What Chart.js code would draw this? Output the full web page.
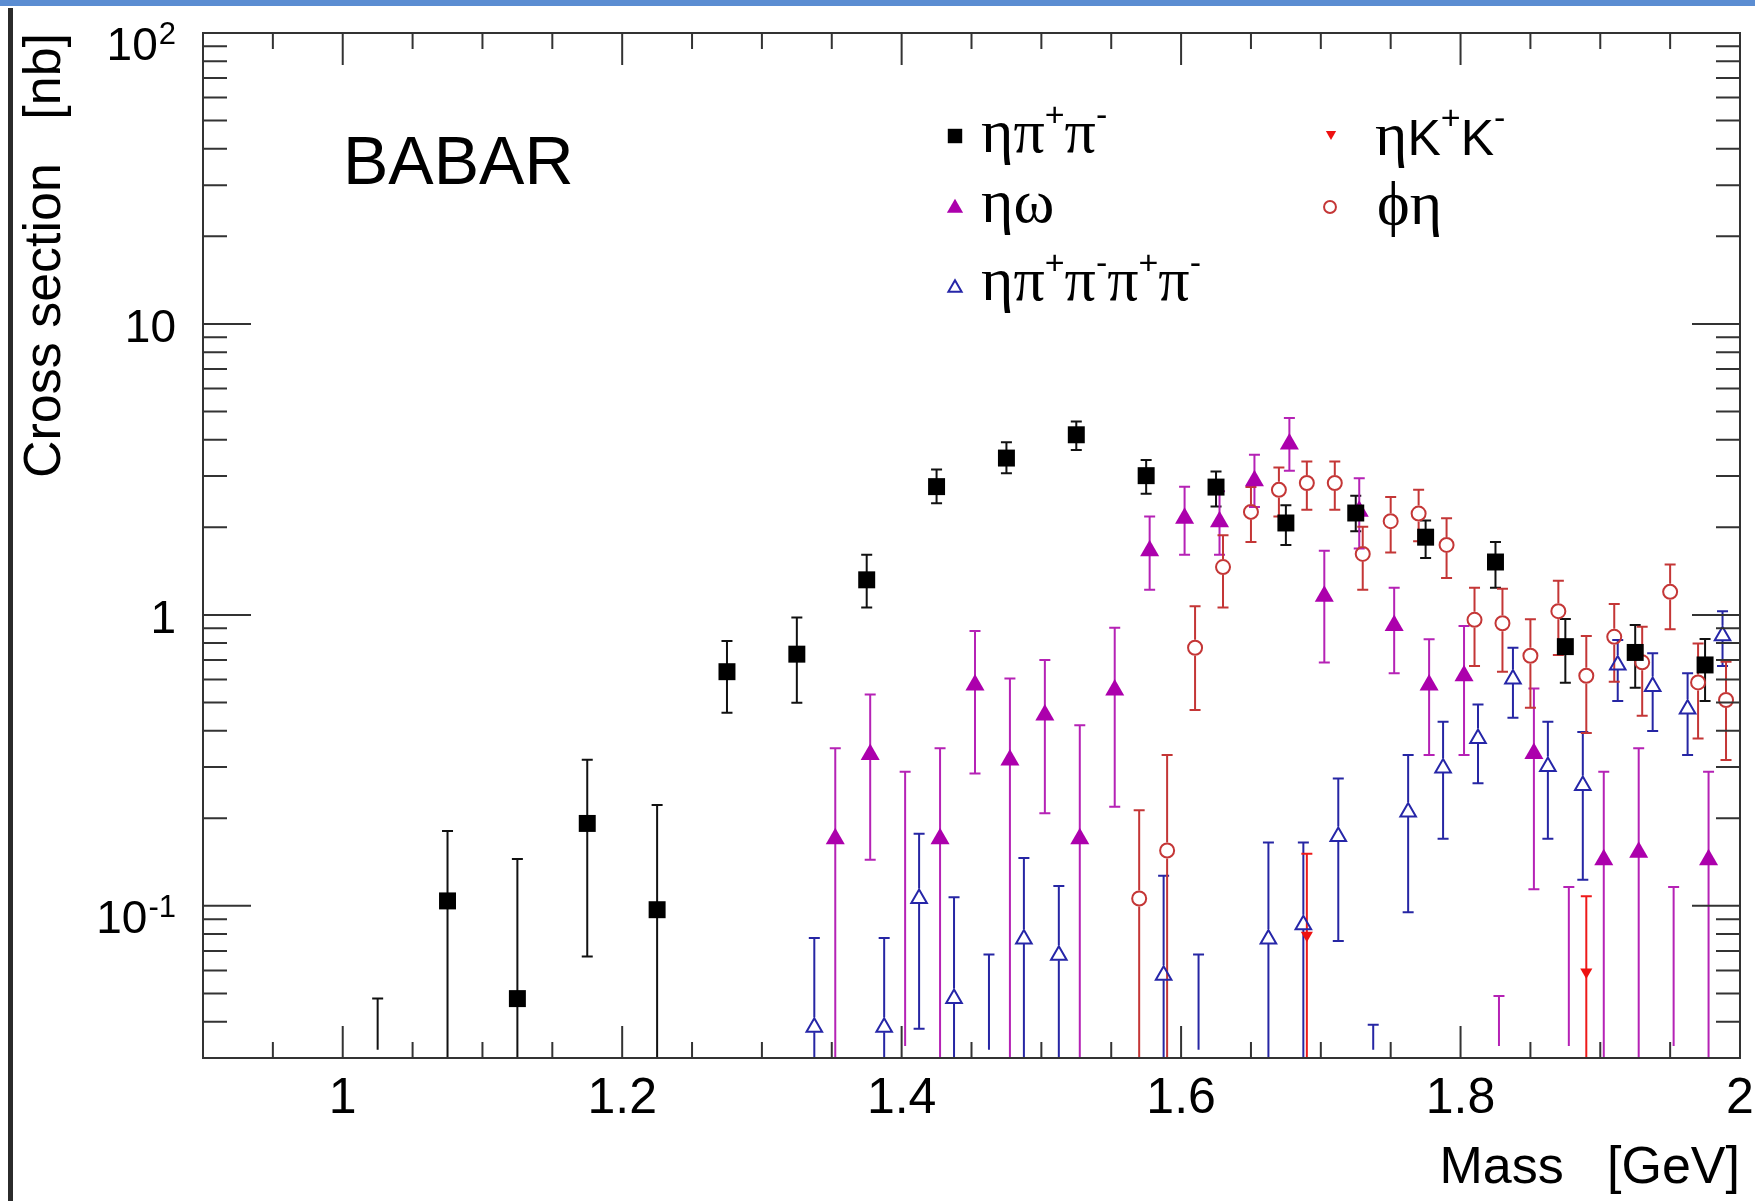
<!DOCTYPE html>
<html lang="en">
<head>
<meta charset="UTF-8">
<title>BABAR cross sections</title>
<script src="https://cdn.jsdelivr.net/npm/chart.js"></script>
<style>
  body { margin: 0; background: #fff; }
  #wrap { position: relative; width: 1755px; height: 1201px; overflow: hidden; }
  #topband { position: absolute; left: 0; top: 0; width: 1755px; height: 6px; background: #5b8dd2; }
  #leftbar { position: absolute; left: 8px; top: 8px; width: 5px; height: 1193px; background: #2b2b2b; }
  canvas { position: absolute; left: 0; top: 0; }
</style>
</head>
<body>
<div id="wrap">
  <canvas id="xsChart" width="1755" height="1201"></canvas>
  <div id="topband"></div>
  <div id="leftbar"></div>
</div>
<script>
// axis ticks
var xMajorTicks = [1, 1.2, 1.4, 1.6, 1.8, 2];
var yMajorTicks = [0.1, 1, 10, 100];
var yTickBase = ['10', '1', '10', '10'];
var yTickExp = ['-1', '', '', '2'];

// eta pi+ pi-  (null = no marker, bar only)
var etaPiPiX = [1.025, 1.075, 1.125, 1.175, 1.225, 1.275, 1.325, 1.375, 1.425, 1.475, 1.525, 1.575, 1.625, 1.675, 1.725, 1.775, 1.825, 1.875, 1.925, 1.975];
var etaPiPiY = [null, 0.104, 0.048, 0.192, 0.097, 0.638, 0.733, 1.32, 2.76, 3.46, 4.16, 3.01, 2.75, 2.07, 2.24, 1.85, 1.52, 0.778, 0.743, 0.673];
var etaPiPiHi = [0.048, 0.181, 0.145, 0.318, 0.222, 0.813, 0.98, 1.61, 3.16, 3.92, 4.62, 3.41, 3.11, 2.38, 2.57, 2.11, 1.78, 0.968, 0.923, 0.826];
var etaPiPiLo = [0.032, 0.01, 0.01, 0.067, 0.01, 0.461, 0.499, 1.06, 2.42, 3.07, 3.69, 2.61, 2.36, 1.74, 1.94, 1.57, 1.24, 0.585, 0.562, 0.506];

// eta omega
var etaOmegaX = [1.3525, 1.3775, 1.4025, 1.4275, 1.4525, 1.4775, 1.5025, 1.5275, 1.5525, 1.5775, 1.6025, 1.6275, 1.6525, 1.6775, 1.7025, 1.7275, 1.7525, 1.7775, 1.8025, 1.8275, 1.8525, 1.8775, 1.9025, 1.9275, 1.9525, 1.9775];
var etaOmegaY = [0.170, 0.331, null, 0.170, 0.574, 0.317, 0.453, 0.170, 0.552, 1.66, 2.15, 2.09, 2.89, 3.87, 1.16, 2.27, 0.92, 0.574, 0.618, null, 0.334, null, 0.144, 0.153, null, 0.144];
var etaOmegaHi = [0.348, 0.533, 0.289, 0.348, 0.881, 0.605, 0.700, 0.418, 0.904, 2.18, 2.76, 2.66, 3.55, 4.75, 1.66, 2.95, 1.24, 0.824, 0.916, 0.049, 0.559, 0.116, 0.289, 0.348, 0.116, 0.289];
var etaOmegaLo = [0.01, 0.144, 0.033, 0.01, 0.285, 0.01, 0.208, 0.01, 0.219, 1.22, 1.61, 1.61, 2.35, 3.13, 0.686, 1.69, 0.63, 0.330, 0.330, 0.033, 0.114, 0.033, 0.01, 0.01, 0.033, 0.01];

// eta pi+ pi- pi+ pi-
var eta4PiX = [1.3375, 1.3875, 1.4125, 1.4375, 1.4625, 1.4875, 1.5125, 1.5875, 1.6125, 1.6625, 1.6875, 1.7125, 1.7375, 1.7625, 1.7875, 1.8125, 1.8375, 1.8625, 1.8875, 1.9125, 1.9375, 1.9625, 1.9875];
var eta4PiY = [0.0383, 0.0383, 0.106, 0.048, null, 0.077, 0.0676, 0.0577, null, 0.077, 0.0861, 0.173, null, 0.210, 0.298, 0.376, 0.602, 0.301, 0.259, 0.673, 0.567, 0.475, 0.848];
var eta4PiHi = [0.0776, 0.0776, 0.177, 0.107, 0.068, 0.146, 0.117, 0.127, 0.068, 0.165, 0.165, 0.274, 0.039, 0.330, 0.429, 0.492, 0.771, 0.429, 0.396, 0.82, 0.738, 0.63, 1.03];
var eta4PiLo = [0.01, 0.01, 0.0378, 0.01, 0.032, 0.01, 0.01, 0.01, 0.032, 0.01, 0.01, 0.0757, 0.032, 0.095, 0.170, 0.264, 0.443, 0.170, 0.123, 0.506, 0.399, 0.330, 0.668];

// phi eta
var phiEtaX = [1.57, 1.59, 1.61, 1.63, 1.65, 1.67, 1.69, 1.71, 1.73, 1.75, 1.77, 1.79, 1.81, 1.83, 1.85, 1.87, 1.89, 1.91, 1.93, 1.95, 1.97, 1.99];
var phiEtaY = [0.106, 0.155, 0.771, 1.46, 2.26, 2.69, 2.84, 2.84, 1.62, 2.10, 2.23, 1.74, 0.962, 0.936, 0.724, 1.03, 0.618, 0.841, 0.687, 1.20, 0.586, 0.510];
var phiEtaHi = [0.213, 0.330, 1.07, 1.88, 2.75, 3.21, 3.37, 3.37, 2.01, 2.54, 2.69, 2.15, 1.24, 1.23, 0.966, 1.31, 0.846, 1.09, 0.91, 1.49, 0.798, 0.69];
var phiEtaLo = [0.01, 0.01, 0.471, 1.06, 1.78, 2.18, 2.30, 2.30, 1.22, 1.64, 1.79, 1.34, 0.667, 0.638, 0.480, 0.728, 0.393, 0.589, 0.450, 0.892, 0.376, 0.317];

// eta K+ K-
var etaKKX = [1.69, 1.89];
var etaKKY = [0.0792, 0.0593];
var etaKKHi = [0.151, 0.108];
var etaKKLo = [0.01, 0.01];

var SANS = "'Liberation Sans', Arial, sans-serif";
var SERIF = "'Liberation Serif', 'DejaVu Serif', 'Times New Roman', serif";
Chart.defaults.font.family = SANS;

var series = [
    { x: etaPiPiX, y: etaPiPiY, hi: etaPiPiHi, lo: etaPiPiLo, bar: '#111111',
      style: 'rect', radius: 12, fill: '#000000', line: '#000000', width: 0, rot: 0, gapT: 0, gapB: 0 },
    { x: etaOmegaX, y: etaOmegaY, hi: etaOmegaHi, lo: etaOmegaLo, bar: '#b522b5',
      style: 'triangle', radius: 11, fill: '#ac00ac', line: '#ac00ac', width: 0, rot: 0, gapT: 0, gapB: 0 },
    { x: eta4PiX, y: eta4PiY, hi: eta4PiHi, lo: eta4PiLo, bar: '#2626a4',
      style: 'triangle', radius: 9, fill: 'rgba(0,0,0,0)', line: '#2626a8', width: 2, rot: 0, gapT: 10, gapB: 5 },
    { x: phiEtaX, y: phiEtaY, hi: phiEtaHi, lo: phiEtaLo, bar: '#c43636',
      style: 'circle', radius: 7, fill: 'rgba(0,0,0,0)', line: '#c43636', width: 2, rot: 0, gapT: 8, gapB: 8 },
    { x: etaKKX, y: etaKKY, hi: etaKKHi, lo: etaKKLo, bar: '#ee1a1a',
      style: 'triangle', radius: 7, fill: '#ee1111', line: '#ee1111', width: 0, rot: 180, gapT: 0, gapB: 0 }
];

var datasets = series.map(function (s) {
    var pts = [];
    s.x.forEach(function (xv, i) {
        if (s.y[i] !== null) pts.push({ x: xv, y: s.y[i] });
    });
    return {
        data: pts,
        showLine: false,
        pointStyle: s.style,
        pointRadius: s.radius,
        pointRotation: s.rot,
        pointBackgroundColor: s.fill,
        pointBorderColor: s.line,
        pointBorderWidth: s.width
    };
});

// vertical error bars with caps, drawn under the markers
var errorBarPlugin = {
    id: 'errorBars',
    beforeDatasetsDraw: function (chart) {
        var ctx = chart.ctx, a = chart.chartArea;
        var xs = chart.scales.x, ys = chart.scales.y;
        var cap = 5.5;
        ctx.save();
        ctx.beginPath();
        ctx.rect(a.left, a.top, a.right - a.left, a.bottom - a.top);
        ctx.clip();
        ctx.lineWidth = 2;
        series.forEach(function (s) {
            ctx.strokeStyle = s.bar;
            s.x.forEach(function (xv, i) {
                var px = xs.getPixelForValue(xv);
                var pHi = ys.getPixelForValue(s.hi[i]);
                var pLo = ys.getPixelForValue(s.lo[i]);
                ctx.beginPath();
                if (s.y[i] !== null && s.gapT) {
                    var pv = ys.getPixelForValue(s.y[i]);
                    if (pHi < pv - s.gapT) { ctx.moveTo(px, pHi); ctx.lineTo(px, pv - s.gapT); }
                    if (pLo > pv + s.gapB) { ctx.moveTo(px, pv + s.gapB); ctx.lineTo(px, pLo); }
                } else {
                    ctx.moveTo(px, pHi);
                    ctx.lineTo(px, pLo);
                }
                ctx.moveTo(px - cap, pHi);
                ctx.lineTo(px + cap, pHi);
                if (s.y[i] !== null) {
                    ctx.moveTo(px - cap, pLo);
                    ctx.lineTo(px + cap, pLo);
                }
                ctx.stroke();
            });
        });
        ctx.restore();
    }
};

// ROOT style frame, inward ticks on all four sides, y labels with exponents
var axesPlugin = {
    id: 'rootAxes',
    afterDatasetsDraw: function (chart) {
        var ctx = chart.ctx, a = chart.chartArea;
        var xs = chart.scales.x, ys = chart.scales.y;
        ctx.save();
        ctx.strokeStyle = '#333333';
        ctx.lineWidth = 2;
        ctx.strokeRect(a.left, a.top, a.right - a.left, a.bottom - a.top);
        ctx.beginPath();
        for (var k = 19; k < 40; k++) {
            var px = xs.getPixelForValue(k * 0.05);
            var len = (k % 4 === 0) ? 32 : 16;
            ctx.moveTo(px, a.bottom); ctx.lineTo(px, a.bottom - len);
            ctx.moveTo(px, a.top); ctx.lineTo(px, a.top + len);
        }
        for (var e = -2; e <= 1; e++) {
            for (var m = 1; m <= 9; m++) {
                var v = m * Math.pow(10, e);
                if (v < ys.min || v > ys.max) continue;
                var py = ys.getPixelForValue(v);
                var l = (m === 1) ? 48 : 24;
                ctx.moveTo(a.left, py); ctx.lineTo(a.left + l, py);
                ctx.moveTo(a.right, py); ctx.lineTo(a.right - l, py);
            }
        }
        ctx.stroke();

        ctx.fillStyle = '#000';
        ctx.textBaseline = 'alphabetic';
        ctx.textAlign = 'right';
        var right = a.left - 27;
        yMajorTicks.forEach(function (v, i) {
            var py = ys.getPixelForValue(v);
            if (yTickExp[i]) {
                ctx.font = '31px ' + SANS;
                var w = ctx.measureText(yTickExp[i]).width;
                ctx.fillText(yTickExp[i], right, py + 11);
                ctx.font = '46px ' + SANS;
                ctx.fillText(yTickBase[i], right - w - 1, py + 27);
            } else {
                ctx.font = '46px ' + SANS;
                ctx.fillText(yTickBase[i], right, py + 18);
            }
        });
        ctx.restore();
    }
};

// text runs with serif greek letters and raised charges
function drawRun(ctx, parts, x, y) {
    parts.forEach(function (p) {
        var size = p.sup ? 34 : (p.serif ? 62 : 50);
        ctx.font = size + 'px ' + (p.serif ? SERIF : SANS);
        ctx.fillText(p.t, x, p.sup ? y - 26 : y);
        x += ctx.measureText(p.t).width;
    });
}

var legendRows = [
    { s: 0, mx: 955, my: 136, tx: 981, ty: 152, parts: [{ t: 'ηπ', serif: true }, { t: '+', sup: true }, { t: 'π', serif: true }, { t: '-', sup: true }] },
    { s: 1, mx: 955, my: 208, tx: 981, ty: 222, parts: [{ t: 'ηω', serif: true }] },
    { s: 2, mx: 955, my: 288, tx: 981, ty: 300, parts: [{ t: 'ηπ', serif: true }, { t: '+', sup: true }, { t: 'π', serif: true }, { t: '-', sup: true }, { t: 'π', serif: true }, { t: '+', sup: true }, { t: 'π', serif: true }, { t: '-', sup: true }] },
    { s: 4, mx: 1331, my: 134, tx: 1375, ty: 155, parts: [{ t: 'η', serif: true }, { t: 'K' }, { t: '+', sup: true }, { t: 'K' }, { t: '-', sup: true }] },
    { s: 3, mx: 1330, my: 207, tx: 1377, ty: 224, parts: [{ t: 'ϕη', serif: true }] }
];

var labelsPlugin = {
    id: 'babarLabels',
    afterDraw: function (chart) {
        var ctx = chart.ctx;
        ctx.save();
        ctx.fillStyle = '#000';
        ctx.textAlign = 'left';
        ctx.textBaseline = 'alphabetic';
        ctx.font = '68px ' + SANS;
        ctx.fillText('BABAR', 343, 184);
        legendRows.forEach(function (r) {
            var s = series[r.s];
            ctx.fillStyle = s.fill;
            ctx.strokeStyle = s.line;
            ctx.lineWidth = s.width;
            Chart.helpers.drawPoint(ctx, { pointStyle: s.style, rotation: s.rot, radius: s.radius * 0.85, borderWidth: s.width }, r.mx, r.my);
            ctx.fillStyle = '#000';
            drawRun(ctx, r.parts, r.tx, r.ty);
        });
        ctx.restore();
    }
};

var ctx = document.getElementById('xsChart').getContext('2d');
var xsChart = new Chart(ctx, {
    type: 'scatter',
    data: { datasets: datasets },
    options: {
        responsive: false,
        animation: false,
        layout: { padding: { top: 33, right: 15, left: 0, bottom: 0 } },
        plugins: { legend: { display: false }, tooltip: { enabled: false } },
        scales: {
            x: {
                type: 'linear',
                min: 0.9,
                max: 2.0,
                grid: { display: false, drawTicks: false },
                border: { display: false },
                afterBuildTicks: function (scale) {
                    scale.ticks = xMajorTicks.map(function (v) { return { value: v }; });
                },
                afterFit: function (scale) {
                    scale.height = 143;
                    scale.paddingLeft = 0;
                    scale.paddingRight = 0;
                },
                ticks: {
                    autoSkip: false,
                    maxRotation: 0,
                    padding: 11,
                    color: '#000',
                    font: { size: 50 },
                    callback: function (v) { return String(v); }
                },
                title: {
                    display: true,
                    text: 'Mass   [GeV]',
                    align: 'end',
                    color: '#000',
                    font: { size: 52 },
                    padding: { top: 0, bottom: 1 }
                }
            },
            y: {
                type: 'logarithmic',
                min: 0.03,
                max: 100,
                grid: { display: false, drawTicks: false },
                border: { display: false },
                ticks: { display: false },
                afterFit: function (scale) {
                    scale.width = 203;
                    scale.paddingTop = 0;
                    scale.paddingBottom = 0;
                },
                title: {
                    display: true,
                    text: 'Cross section   [nb]',
                    align: 'end',
                    color: '#000',
                    font: { size: 52 },
                    padding: { top: 14, bottom: 0 }
                }
            }
        }
    },
    plugins: [errorBarPlugin, axesPlugin, labelsPlugin]
});
</script>
</body>
</html>
